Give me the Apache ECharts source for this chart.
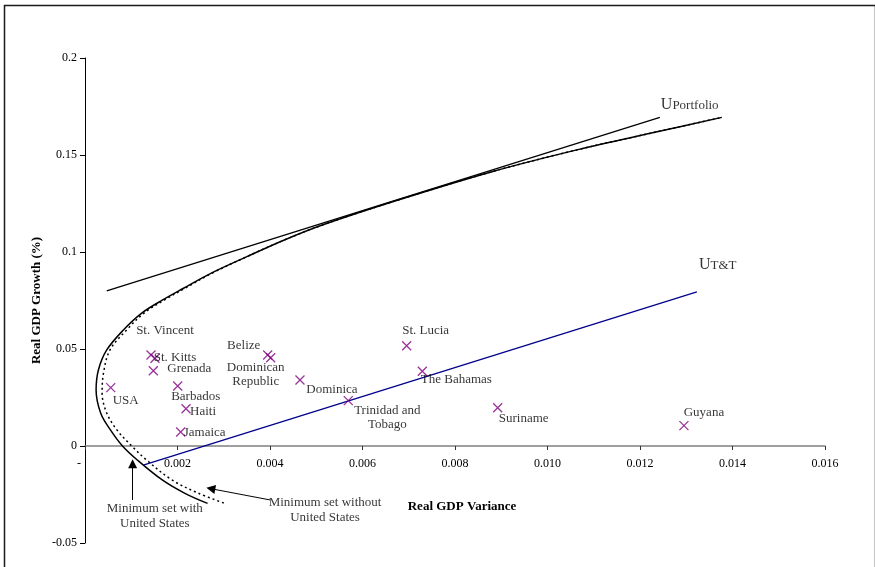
<!DOCTYPE html>
<html>
<head>
<meta charset="utf-8">
<script src="https://cdn.jsdelivr.net/npm/echarts@6/dist/echarts.min.js"></script>
<style>
  html, body { margin: 0; padding: 0; background: #fff; }
  #chart { width: 875px; height: 567px; }
</style>
</head>
<body>
<div id="chart"></div>
<script>
// Caribbean economies: real GDP variance vs. real GDP growth
const countries = ['USA', 'St. Vincent', 'St. Kitts', 'Grenada', 'Barbados', 'Haiti', 'Jamaica',
  'Belize', 'Dominican\nRepublic', 'Dominica', 'Trinidad and\nTobago', 'St. Lucia',
  'The Bahamas', 'Suriname', 'Guyana'];
const gdpVariance = [0.000556, 0.001427, 0.001513, 0.001477, 0.002004, 0.002184, 0.002069,
  0.00395, 0.004015, 0.004648, 0.005693, 0.006955, 0.007293, 0.008923, 0.01295];
const gdpGrowth = [0.0301, 0.0469, 0.0452, 0.0388, 0.0309, 0.0192, 0.0072,
  0.0469, 0.0455, 0.0340, 0.0234, 0.0517, 0.0385, 0.0197, 0.0105];

// Minimum-variance set including the United States
const minSetWithUSVariance = [0.00265, 0.00216, 0.00167, 0.00113, 0.00081, 0.00055, 0.00034,
  0.00024, 0.00029, 0.00047, 0.00083, 0.00122, 0.00168, 0.00213, 0.00272, 0.00350,
  0.00431, 0.00513, 0.00677, 0.00880, 0.01068, 0.01232, 0.01377];
const minSetWithUSGrowth = [-0.0296, -0.0244, -0.0175, -0.0072, 0, 0.0083, 0.0169,
  0.0289, 0.0392, 0.0495, 0.0598, 0.0684, 0.0753, 0.0813, 0.0890, 0.0976,
  0.1062, 0.1139, 0.1268, 0.1414, 0.1529, 0.1617, 0.1694];

// Minimum-variance set without the United States
const minSetNoUSVariance = [0.00300, 0.00244, 0.00188, 0.00133, 0.00101, 0.00069, 0.00047,
  0.00037, 0.00040, 0.00054, 0.00090, 0.00127, 0.00172, 0.00216, 0.00274, 0.00350,
  0.00431, 0.00513, 0.00677, 0.00880, 0.01068, 0.01232, 0.01377];
const minSetNoUSGrowth = [-0.0294, -0.0242, -0.0175, -0.0072, 0, 0.0083, 0.0170,
  0.0273, 0.0376, 0.0495, 0.0598, 0.0684, 0.0753, 0.0813, 0.0890, 0.0976,
  0.1062, 0.1139, 0.1268, 0.1414, 0.1529, 0.1617, 0.1694];

// Indifference lines
const uPortfolioVariance = [0.00047, 0.01243];
const uPortfolioGrowth = [0.0800, 0.1694];
const uTTVariance = [0.00126, 0.01323];
const uTTGrowth = [-0.0098, 0.0794];

// Axis ticks
const xTicks = { min: 0, max: 0.016, step: 0.002 };
const yTicks = { min: -0.05, max: 0.2, step: 0.05 };

// Label placement for each country (pixel offset of the label centre from its marker)
const labelOffsets = [[15, 13], [14, -24], [20, -1], [36, -2], [18, 11], [17, 3], [24, 1],
  [-24, -9], [-15, 17], [32, 10], [39, 17], [19, -15], [34, 8], [26, 11], [20, -13]];

const FONT = 'Liberation Serif';
const pairs = (xs, ys) => xs.map((x, i) => [x, ys[i]]);

// Plot box; the variance axis sits on the zero-growth line
const GRID = { left: 85, right: 50, top: 58, bottom: 24 };
const plotHeight = 567 - GRID.top - GRID.bottom;
const zeroLineOffset = -plotHeight * (0 - yTicks.min) / (yTicks.max - yTicks.min);

const chart = echarts.init(document.getElementById('chart'), null, { renderer: 'canvas' });

const option = {
  animation: false,
  backgroundColor: '#ffffff',
  textStyle: { fontFamily: FONT, color: '#000' },
  graphic: [{
    type: 'rect', left: 2, top: 3, silent: true, z: -1,
    shape: { width: 871, height: 580 },
    style: { fill: 'none', stroke: '#1a1a1a', lineWidth: 1.5 }
  }],
  grid: Object.assign({ containLabel: false, outerBoundsMode: 'none' }, GRID),
  xAxis: {
    type: 'value', min: xTicks.min, max: xTicks.max, interval: xTicks.step,
    position: 'bottom', offset: zeroLineOffset,
    name: 'Real GDP Variance', nameLocation: 'middle', nameGap: 54, nameMoveOverlap: false,
    nameTextStyle: { fontFamily: FONT, fontWeight: 'bold', fontSize: 13, color: '#000',
      padding: [0, 0, 0, 14] },
    axisLine: { onZero: false, lineStyle: { color: '#808080', width: 1.5 } },
    axisTick: { show: true, inside: false, length: 4, lineStyle: { color: '#333', width: 1 } },
    axisLabel: {
      margin: 12, fontSize: 12, fontFamily: FONT, color: '#000',
      formatter: v => (Math.abs(v) < 1e-12 ? '-\u2002\u2002' : v.toFixed(3))
    },
    splitLine: { show: false }
  },
  yAxis: {
    type: 'value', min: yTicks.min, max: yTicks.max, interval: yTicks.step,
    name: 'Real GDP Growth (%)', nameLocation: 'middle', nameGap: 42, nameMoveOverlap: false,
    nameTextStyle: { fontFamily: FONT, fontWeight: 'bold', fontSize: 13, color: '#000' },
    axisLine: { onZero: false, lineStyle: { color: '#000', width: 1 } },
    axisTick: { show: true, inside: false, length: 5, lineStyle: { color: '#000', width: 1 } },
    axisLabel: {
      margin: 8, fontSize: 12, fontFamily: FONT, color: '#000',
      formatter: v => String(parseFloat(v.toFixed(2)))
    },
    splitLine: { show: false }
  },
  series: [
    {
      name: 'Minimum set without United States',
      type: 'line', smooth: 0.35, symbol: 'none', silent: true, z: 2,
      data: pairs(minSetNoUSVariance, minSetNoUSGrowth),
      lineStyle: { color: '#000', width: 1.5, type: [2, 3] }
    },
    {
      name: 'Minimum set with United States',
      type: 'line', smooth: 0.35, symbol: 'none', silent: true, z: 3,
      data: pairs(minSetWithUSVariance, minSetWithUSGrowth),
      lineStyle: { color: '#000', width: 1.5 }
    },
    {
      name: 'U Portfolio',
      type: 'line', symbol: 'none', silent: true, z: 3,
      data: pairs(uPortfolioVariance, uPortfolioGrowth),
      lineStyle: { color: '#000', width: 1.3 }
    },
    {
      name: 'U T&T',
      type: 'line', symbol: 'none', silent: true, z: 3,
      data: pairs(uTTVariance, uTTGrowth),
      lineStyle: { color: '#00008b', width: 1.3 }
    },
    {
      name: 'Countries',
      type: 'scatter', z: 5,
      symbol: 'path://M0,0L10,10M10,0L0,10',
      symbolSize: 9,
      itemStyle: { color: 'none', borderColor: '#800080', borderWidth: 1.3 },
      label: {
        show: true, position: 'inside', formatter: '{b}',
        fontFamily: FONT, fontSize: 13, lineHeight: 14.5, color: '#000', align: 'center'
      },
      data: countries.map((c, i) => ({
        name: c,
        value: [gdpVariance[i], gdpGrowth[i]],
        label: { offset: labelOffsets[i] }
      }))
    },
    {
      name: 'Notes',
      type: 'scatter', z: 6, silent: true,
      symbolSize: 1, itemStyle: { color: 'transparent' },
      label: {
        show: true, position: 'inside', formatter: '{b}',
        fontFamily: FONT, fontSize: 13, lineHeight: 14.5, color: '#000', align: 'center',
        rich: {
          u: { fontFamily: FONT, fontSize: 16, lineHeight: 17, verticalAlign: 'bottom', color: '#000' },
          s: { fontFamily: FONT, fontSize: 13, lineHeight: 8, verticalAlign: 'bottom', color: '#000' }
        }
      },
      data: [
        { name: 'Minimum set with\nUnited States', value: [0.00151, -0.0361] },
        { name: 'Minimum set without\nUnited States', value: [0.00519, -0.0330] },
        { name: 'UPortfolio', value: [0.013075, 0.1763],
          label: { formatter: '{u|U}{s|Portfolio}' } },
        { name: 'UT&T', value: [0.01368, 0.0938],
          label: { formatter: '{u|U}{s|T&T}' } }
      ],
      markLine: {
        silent: true, symbol: ['none', 'triangle'], symbolSize: 9,
        label: { show: false },
        lineStyle: { color: '#000', width: 1, type: 'solid' },
        data: [
          [{ coord: [0.00103, -0.0278] }, { coord: [0.00103, -0.0092] }],
          [{ coord: [0.00400, -0.0278] }, { coord: [0.00272, -0.0220] }]
        ]
      }
    }
  ]
};

chart.setOption(option);
</script>
</body>
</html>
